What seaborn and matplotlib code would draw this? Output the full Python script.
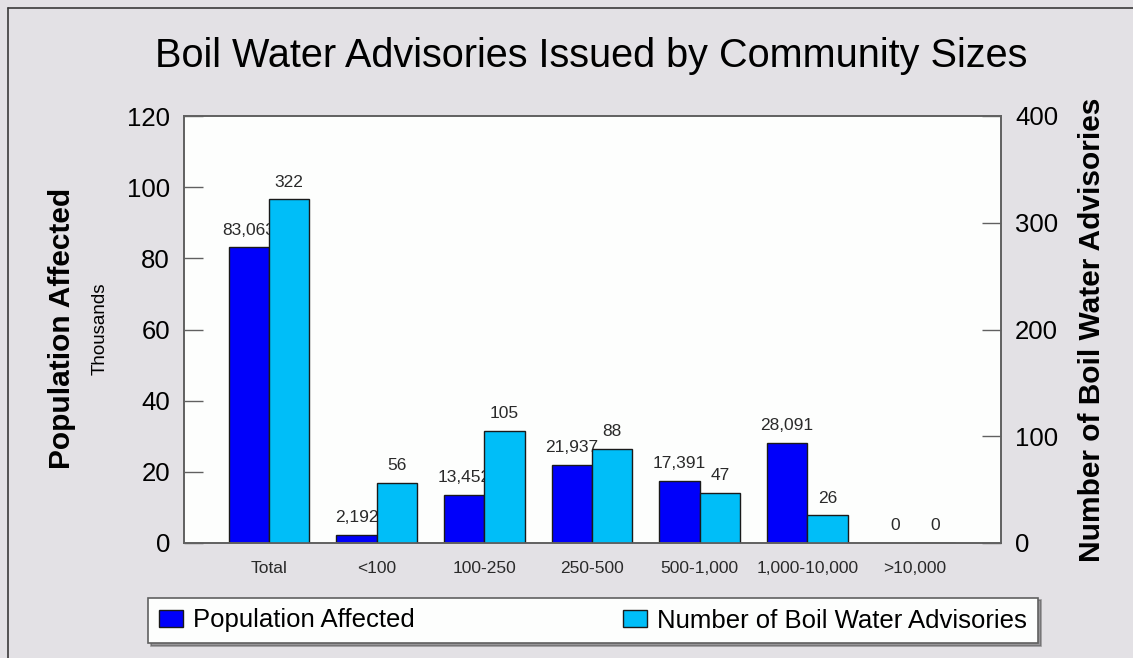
import matplotlib
matplotlib.use("Agg")
import matplotlib.pyplot as plt
from matplotlib.lines import Line2D
from matplotlib.patches import Patch, Rectangle
import pandas as pd
import seaborn as sns

categories = ["Total", "<100", "100-250", "250-500", "500-1,000", "1,000-10,000", ">10,000"]
population = [83063, 2192, 13452, 21937, 17391, 28091, 0]
advisories = [322, 56, 105, 88, 47, 26, 0]
series_names = ["Population Affected", "Number of Boil Water Advisories"]
colors = {"Population Affected": "#0000FA", "Number of Boil Water Advisories": "#00BEF8"}

sns.set_theme(style="white")
plt.rcParams["font.family"] = ["Liberation Sans", "DejaVu Sans"]

bg = "#E3E1E5"
text_dark = "#000000"
label_grey = "#2a2a2a"
spine_col = "#606060"

pop_df = pd.DataFrame({"category": categories,
                       "value": [p / 1000 for p in population],
                       "series": series_names[0]})
adv_df = pd.DataFrame({"category": categories,
                       "value": advisories,
                       "series": series_names[1]})

fig = plt.figure(figsize=(11.33, 6.58), dpi=100, facecolor=bg)
ax = fig.add_axes([184 / 1133, 1 - 543 / 658, (1001 - 184) / 1133, (543 - 116) / 658])
ax.set_facecolor("#FDFEFD")

bar_kw = dict(x="category", y="value", hue="series", hue_order=series_names,
              order=categories, palette=colors, saturation=1, width=0.75, dodge=True,
              edgecolor="#1a1a1a", linewidth=1.0, legend=False)
sns.barplot(data=pop_df, ax=ax, **bar_kw)
ax2 = ax.twinx()
sns.barplot(data=adv_df, ax=ax2, **bar_kw)

ax.set_xlim(-0.79, 6.80)
ax.set_ylim(0, 120)
ax2.set_ylim(0, 400)
ax.set_yticks(range(0, 121, 20))
ax2.set_yticks(range(0, 401, 100))
for a in (ax, ax2):
    a.set_xlabel("")
    a.set_ylabel("")

ax.tick_params(axis="y", direction="in", length=14, width=1, color=spine_col,
               labelsize=18.5, labelcolor=text_dark, pad=10, left=True)
ax2.tick_params(axis="y", direction="in", length=14, width=1, color=spine_col,
                labelsize=18.5, labelcolor=text_dark, pad=10, right=True)
ax.tick_params(axis="x", length=0, labelsize=12.5, labelcolor=label_grey, pad=13)
ax2.tick_params(axis="x", length=0)

for a in (ax, ax2):
    for s in a.spines.values():
        s.set_visible(True)
        s.set_color(spine_col)
        s.set_linewidth(1.2)


def label_bars(axis, texts):
    bars = sorted((p for p in axis.patches if isinstance(p, Rectangle)),
                  key=lambda p: p.get_x())
    for bar, txt in zip(bars, texts):
        axis.annotate(txt, xy=(bar.get_x() + bar.get_width() / 2, bar.get_height()),
                      xytext=(0, 7), textcoords="offset points", ha="center", va="bottom",
                      fontsize=12.5, color=label_grey)


label_bars(ax, [f"{v:,}" for v in population])
label_bars(ax2, [f"{v:,}" for v in advisories])

fig.text(591 / 1133, 1 - 67 / 658, "Boil Water Advisories Issued by Community Sizes",
         ha="center", va="baseline", fontsize=28.5, color=text_dark)
fig.text(62 / 1133, 1 - 328 / 658, "Population Affected", rotation=90,
         ha="center", va="center", fontsize=21.5, fontweight="bold", color=text_dark)
fig.text(100 / 1133, 1 - 329 / 658, "Thousands", rotation=90,
         ha="center", va="center", fontsize=13.5, color=text_dark)
fig.text(1092 / 1133, 1 - 330 / 658, "Number of Boil Water Advisories", rotation=90,
         ha="center", va="center", fontsize=21.5, fontweight="bold", color=text_dark)

handles = [Patch(facecolor=colors[n], edgecolor="#1a1a1a", linewidth=1.0) for n in series_names]
leg = fig.legend(handles, series_names, loc="center", ncol=2, mode="expand",
                 bbox_to_anchor=(148 / 1133, 1 - 643 / 658, 890 / 1133, 45 / 658),
                 fontsize=18.5, frameon=True, fancybox=False, shadow=True,
                 handlelength=0.95, handleheight=0.6, handletextpad=0.4,
                 borderaxespad=0, borderpad=0.42)
leg.get_frame().set_facecolor("#FDFEFD")
leg.get_frame().set_edgecolor(spine_col)
leg.get_frame().set_linewidth(1.2)
for t in leg.get_texts():
    t.set_color(text_dark)

# outer frame
fig.add_artist(Line2D([8 / 1133, 1], [1 - 8 / 658, 1 - 8 / 658], color="#3a3a3a", lw=1.2,
                      transform=fig.transFigure))
fig.add_artist(Line2D([8 / 1133, 8 / 1133], [0, 1 - 8 / 658], color="#3a3a3a", lw=1.2,
                      transform=fig.transFigure))

fig.savefig("out.png", dpi=100, facecolor=bg)
